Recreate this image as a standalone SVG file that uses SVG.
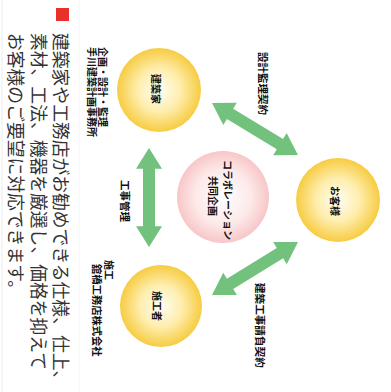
<svg xmlns="http://www.w3.org/2000/svg" xmlns:xlink="http://www.w3.org/1999/xlink" width="391" height="392" viewBox="0 0 391 392">
<defs>
<radialGradient id="gy" cx="0.5" cy="0.5" r="0.5">
<stop offset="0" stop-color="#fffdf2"/>
<stop offset="0.5" stop-color="#feeeb0"/>
<stop offset="1" stop-color="#f7cc42"/>
</radialGradient>
<radialGradient id="gp" cx="0.5" cy="0.5" r="0.5">
<stop offset="0" stop-color="#ffffff"/>
<stop offset="0.6" stop-color="#fde9e9"/>
<stop offset="1" stop-color="#f8c6c8"/>
</radialGradient>
<path id="dbl" d="M0,0 L21,-13 L21,-6 L79,-6 L79,-13 L100,0 L79,13 L79,6 L21,6 L21,13 Z"/>
<style>
text{font-family:"Noto Sans CJK JP","Noto Sans CJK SC",sans-serif;font-weight:bold;fill:#111}
.lb{font-size:10px}
.cl{font-size:10px;text-anchor:middle}
.mt{font-size:17.8px;font-weight:normal;fill:#333}
.arr{fill:#72c17d}
</style>
</defs>
<rect width="391" height="392" fill="#fff"/>
<line x1="2" y1="0" x2="2" y2="392" stroke="#ececec" stroke-width="1"/>
<line x1="79" y1="0" x2="79" y2="392" stroke="#f4f4f4" stroke-width="1"/>

<g id="connectors">
<use xlink:href="#dbl" class="arr" transform="translate(212,103) rotate(31.2) scale(1.005,1)"/>
<use xlink:href="#dbl" class="arr" transform="translate(149,148) rotate(90) scale(0.99,1)"/>
<use xlink:href="#dbl" class="arr" transform="translate(212,295) rotate(-31.6) scale(1.01,1)"/>
</g>

<g id="collab">
<circle cx="223" cy="197" r="46" fill="url(#gp)"/>
<text class="cl" transform="translate(224,200) rotate(90)">コラボレーション</text>
<text class="cl" transform="translate(209,196) rotate(90)">共同企画</text>
</g>

<g id="architect">
<circle cx="159" cy="90" r="42" fill="url(#gy)"/>
<text class="cl" transform="translate(152,89) rotate(90)">建築家</text>
</g>

<g id="client">
<circle cx="338" cy="200" r="42" fill="url(#gy)"/>
<text class="cl" transform="translate(331,201) rotate(90)">お客様</text>
</g>

<g id="builder">
<circle cx="161" cy="306" r="41" fill="url(#gy)"/>
<text class="cl" transform="translate(153,306) rotate(90)">施工者</text>
</g>

<g id="labels">
<text class="lb" transform="translate(99,47) rotate(90)">企画・設計・監理</text>
<text class="lb" transform="translate(88,47) rotate(90)">手川建築計画事務所</text>
<text class="lb" style="font-size:10.5px" transform="translate(259,52) rotate(90)">設計監理契約</text>
<text class="lb" style="font-size:10.5px" transform="translate(121,180) rotate(90)">工事管理</text>
<text class="lb" transform="translate(105,260) rotate(90)">施工</text>
<text class="lb" style="font-size:10.3px" transform="translate(93,264) rotate(90)">舘橋工務店株式会社</text>
<text class="lb" style="font-size:10.6px" transform="translate(256,283) rotate(90)">建築工事請負契約</text>
</g>

<g id="caption">
<rect x="56" y="8" width="13" height="13" fill="#e8312a"/>
<text class="mt" transform="translate(54,33) rotate(90)">建築家や工務店がお勧めできる仕様、仕上、</text>
<text class="mt" transform="translate(31.5,33) rotate(90)">素材、工法、機器を厳選し、価格を抑えて</text>
<text class="mt" transform="translate(9,33) rotate(90)">お客様のご要望に対応できます。</text>
</g>
</svg>
